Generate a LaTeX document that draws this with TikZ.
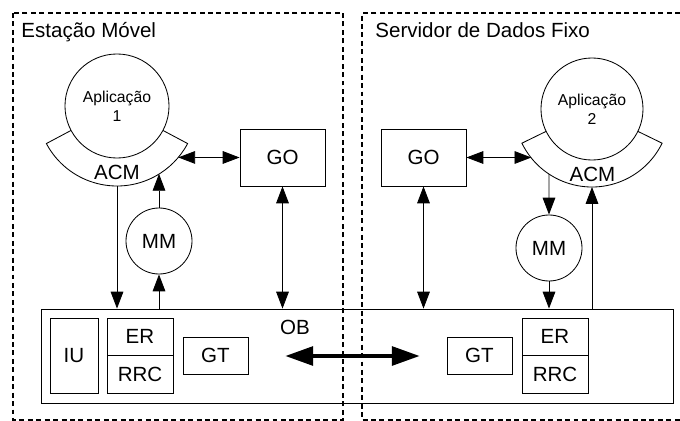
\documentclass[tikz,border=0pt]{standalone}
\usepackage{fontspec}
\setmainfont{Liberation Sans}
\usetikzlibrary{arrows.meta,calc}

\begin{document}
\begin{tikzpicture}[x=0.025cm, y=-0.025cm, line width=0.6pt,
    >={Triangle[length=12pt,width=9pt]},
    font=\fontsize{14.6}{16}\selectfont,
    regiao/.style={line width=1.2pt, dash pattern=on 3.5pt off 2.5pt},
    bloco/.style={draw, inner sep=0pt},
    circulo/.style={draw, circle, fill=white, inner sep=0pt}]

  \useasboundingbox (0,0) rectangle (680,421);

  % --- Regiões: estação móvel e servidor ---
  \draw[regiao] (13,13) rectangle (343,420);
  \draw[regiao] (680,13) -- (362,13) -- (362,420) -- (680,420);
  \node[anchor=base west, inner sep=0pt] (tit1) at (21,37) {Estação Móvel};
  \node[anchor=base west, inner sep=0pt] (tit2) at (375,37) {Servidor de Dados Fixo};

  % --- Barramento de objetos (OB) ---
  \node[bloco, minimum width=15.775cm, minimum height=2.35cm] (ob) at (357.5,356) {};
  \node (oblbl) at (295,327) {OB};

  \node[bloco, minimum width=1.2cm, minimum height=1.875cm] (iu) at (74,355.5) {IU};
  \node[bloco, minimum width=1.65cm, minimum height=0.9375cm] (er1) at (140,336.75) {ER};
  \node[bloco, minimum width=1.65cm, minimum height=0.9375cm] (rrc1) at (140,374.25) {RRC};
  \node[bloco, minimum width=1.625cm, minimum height=0.925cm] (gt1) at (215.5,355.5) {GT};
  \node[bloco, minimum width=1.625cm, minimum height=0.925cm] (gt2) at (479.5,355.5) {GT};
  \node[bloco, minimum width=1.65cm, minimum height=0.9375cm] (er2) at (555,336.75) {ER};
  \node[bloco, minimum width=1.65cm, minimum height=0.9375cm] (rrc2) at (555,374.25) {RRC};

  \coordinate (tl) at (285,356);
  \coordinate (tr) at (420,356);
  \draw[{Triangle[length=20pt,width=13pt]}-{Triangle[length=20pt,width=13pt]}, line width=3.5pt] (tl) -- (tr);

  % --- Aplicação 1 com ACM ---
  \coordinate (c1) at (117,106);
  \draw[fill=white] ($(c1)+(152:80)$) arc[start angle=152, end angle=28, radius=80]
      -- ($(c1)+(28:30)$) arc[start angle=28, end angle=152, radius=30] -- cycle;
  \node[circulo, minimum size=2.6cm, align=center, font=\fontsize{11.2}{13.5}\selectfont] (app1) at (c1) {Aplicação\\1};
  \node (acm1) at (117,172) {ACM};

  % --- Aplicação 2 com ACM ---
  \coordinate (c2) at (592,109);
  \draw[fill=white] ($(c2)+(154:78)$) arc[start angle=154, end angle=26, radius=78]
      -- ($(c2)+(26:30)$) arc[start angle=26, end angle=154, radius=30] -- cycle;
  \node[circulo, minimum size=2.55cm, align=center, font=\fontsize{11.2}{13.5}\selectfont] (app2) at (c2) {Aplicação\\2};
  \node (acm2) at (592.5,174) {ACM};

  % --- GO e MM ---
  \node[bloco, minimum width=2.125cm, minimum height=1.425cm] (go1) at (282.5,157.5) {GO};
  \node[bloco, minimum width=2.125cm, minimum height=1.425cm] (go2) at (423.5,157.5) {GO};
  \node[circulo, minimum size=1.65cm] (mm1) at (159,241) {MM};
  \node[circulo, minimum size=1.65cm] (mm2) at (549,248) {MM};

  % --- Ligações do lado móvel ---
  \coordinate (acm1d) at ($(c1)+(40:80)$);
  \coordinate (acm1b) at ($(c1)+(90:80)$);
  \coordinate (acm1m) at ($(c1)+(58:80)$);
  \draw[<->] (acm1d) -- (go1.west);
  \draw[->] (acm1b) -- (acm1b |- ob.north);
  \draw[->] (mm1.south |- ob.north) -- (mm1.south);
  \draw[->] (mm1.north) -- (mm1.north |- acm1m);
  \draw[<->] (go1.south) -- (go1.south |- ob.north);

  % --- Ligações do lado servidor ---
  \coordinate (acm2e) at ($(c2)+(141:78)$);
  \coordinate (acm2m) at ($(c2)+(123.5:78)$);
  \coordinate (acm2b) at ($(c2)+(90:78)$);
  \draw[<->] (go2.east) -- (go2.east -| acm2e);
  \draw[<->] (go2.south) -- (go2.south |- ob.north);
  \draw[->] (acm2m) -- (mm2.north);
  \draw[->] (mm2.south) -- (mm2.south |- ob.north);
  \draw[->] (acm2b |- ob.north) -- (acm2b);

\end{tikzpicture}
\end{document}
